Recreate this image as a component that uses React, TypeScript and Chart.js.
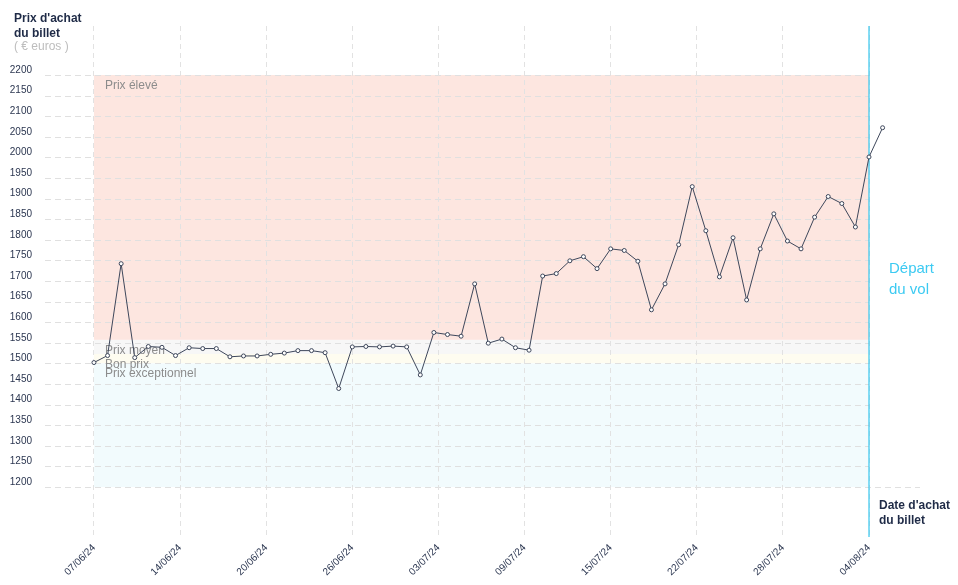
import React, { useEffect, useRef } from 'react';
import { Chart, registerables } from 'chart.js';

Chart.register(...registerables);

// ---- Data ----
const tickDates = ['07/06/24', '14/06/24', '20/06/24', '26/06/24', '03/07/24', '09/07/24', '15/07/24', '22/07/24', '28/07/24', '04/08/24'];

const prices = [
  1502, 1519, 1742, 1514, 1541, 1539, 1519, 1538, 1536, 1536,
  1516, 1518, 1518, 1522, 1525, 1531, 1531, 1526, 1439, 1540,
  1541, 1540, 1542, 1540, 1472, 1575, 1570, 1566, 1693, 1549,
  1559, 1538, 1532, 1712, 1718, 1749, 1759, 1730, 1778, 1774,
  1748, 1630, 1693, 1788, 1929, 1822, 1710, 1805, 1654, 1778,
  1863, 1797, 1778, 1855, 1905, 1888, 1831, 2001, 2072,
];

const yTicks = [1200, 1250, 1300, 1350, 1400, 1450, 1500, 1550, 1600, 1650, 1700, 1750, 1800, 1850, 1900, 1950, 2000, 2050, 2100, 2150, 2200];

const bandNames = ['Prix élevé', 'Prix moyen', 'Bon prix', 'Prix exceptionnel'];
const bandTops = [2200, 1557, 1523, 1500];
const bandBottoms = [1557, 1523, 1500, 1200];
const bandColors = ['#fde6e0', '#f7f7f7', '#fefcf0', '#f2fbfd'];

const departureDay = 57;

const FONT = "'Liberation Sans', Arial, sans-serif";

const overlayPlugin = {
  id: 'overlay',
  beforeDraw(chart: any) {
    const { ctx, chartArea, scales } = chart;
    const x = scales.x;
    const y = scales.y;
    const x0 = x.getPixelForValue(0);
    const x1 = x.getPixelForValue(departureDay);
    ctx.save();
    bandNames.forEach((_, i) => {
      const t = y.getPixelForValue(bandTops[i]);
      const b = y.getPixelForValue(bandBottoms[i]);
      ctx.fillStyle = bandColors[i];
      ctx.fillRect(x0, t, x1 - x0, b - t);
    });
    ctx.strokeStyle = '#e0e0e0';
    ctx.lineWidth = 1;
    ctx.setLineDash([6, 4]);
    yTicks.forEach((v, i) => {
      const py = Math.round(y.getPixelForValue(v)) + 0.5;
      ctx.beginPath();
      ctx.moveTo(chartArea.left, py);
      ctx.lineTo(i === 0 ? chartArea.right : x1, py);
      ctx.stroke();
    });
    ctx.restore();
  },
  beforeDatasetsDraw(chart: any) {
    const { ctx, chartArea, scales } = chart;
    const x = scales.x;
    const y = scales.y;
    const x0 = x.getPixelForValue(0);
    const x1 = x.getPixelForValue(departureDay);
    ctx.save();
    ctx.font = `12px ${FONT}`;
    ctx.fillStyle = '#8c8c8c';
    ctx.textBaseline = 'middle';
    ctx.textAlign = 'left';
    bandNames.forEach((name, i) => {
      const t = y.getPixelForValue(bandTops[i]);
      ctx.fillText(name, x0 + 11, t + 10.5);
    });
    ctx.strokeStyle = '#33c6ef';
    ctx.lineWidth = 1.2;
    ctx.beginPath();
    ctx.moveTo(x1, chartArea.top);
    ctx.lineTo(x1, chartArea.bottom);
    ctx.stroke();
    ctx.restore();
  },
  afterDraw(chart: any) {
    const { ctx, scales } = chart;
    const x1 = scales.x.getPixelForValue(departureDay);
    ctx.save();
    ctx.textBaseline = 'middle';
    ctx.textAlign = 'left';
    ctx.font = `bold 12px ${FONT}`;
    ctx.fillStyle = '#1f2b47';
    ctx.fillText("Prix d'achat", 14, 19);
    ctx.fillText('du billet', 14, 34);
    ctx.fillText("Date d'achat", x1 + 10, 506);
    ctx.fillText('du billet', x1 + 10, 521);
    ctx.font = `12px ${FONT}`;
    ctx.fillStyle = '#bdbdbd';
    ctx.fillText('( € euros )', 14, 47);
    ctx.font = `15px ${FONT}`;
    ctx.fillStyle = '#3ccaf2';
    ctx.fillText('Départ', x1 + 20, 269);
    ctx.fillText('du vol', x1 + 20, 290);
    ctx.restore();
  },
};

export default function App() {
  const ref = useRef<HTMLCanvasElement | null>(null);

  useEffect(() => {
    if (!ref.current) return;
    const chart = new Chart(ref.current, {
      type: 'line',
      data: {
        datasets: [
          {
            data: prices.map((v, i) => ({ x: i, y: v })),
            borderColor: '#3e475b',
            borderWidth: 1,
            pointRadius: 2,
            pointBorderWidth: 1,
            pointBackgroundColor: '#ffffff',
            pointBorderColor: '#3e475b',
            tension: 0,
            fill: false,
          },
        ],
      },
      options: {
        animation: false,
        responsive: true,
        maintainAspectRatio: false,
        layout: { padding: { top: 26, right: 38, left: 0, bottom: 0 } },
        plugins: { legend: { display: false }, tooltip: { enabled: false } },
        scales: {
          x: {
            type: 'linear',
            min: -3.6,
            max: 60.75,
            afterBuildTicks: (scale: any) => {
              scale.ticks = tickDates.map((_, k) => ({ value: (k * departureDay) / (tickDates.length - 1) }));
            },
            afterFit: (scale: any) => {
              scale.height = 48;
            },
            ticks: {
              autoSkip: false,
              minRotation: 45,
              maxRotation: 45,
              padding: 5,
              color: '#2b3650',
              font: { family: FONT, size: 10 },
              callback: (_v: any, index: number) => tickDates[index],
            },
            grid: {
              color: '#e2e2e2',
              lineWidth: 1,
              drawTicks: false,
            },
            border: { display: false, dash: [5, 4] },
          },
          y: {
            type: 'linear',
            min: 1078.6,
            max: 2318.9,
            afterBuildTicks: (scale: any) => {
              scale.ticks = yTicks.map((v) => ({ value: v }));
            },
            afterFit: (scale: any) => {
              scale.width = 45;
            },
            ticks: {
              autoSkip: false,
              padding: 13,
              color: '#2b3650',
              font: { family: FONT, size: 10, lineHeight: '10px' },
              callback: (v: any) => [String(v), ''],
            },
            grid: { display: false, drawTicks: false },
            border: { display: false },
          },
        },
      },
      plugins: [overlayPlugin],
    });
    return () => chart.destroy();
  }, []);

  return (
    <div style={{ position: 'fixed', left: 0, top: 0, width: 958, height: 585 }}>
      <canvas ref={ref} />
    </div>
  );
}
